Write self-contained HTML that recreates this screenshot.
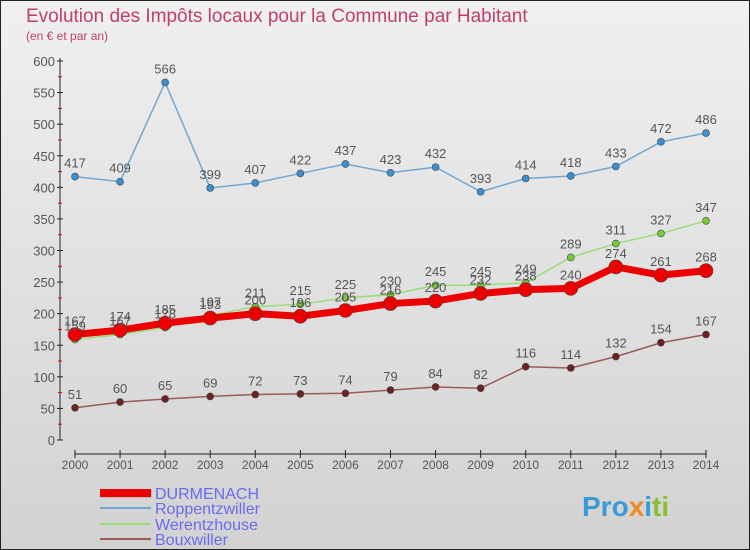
<!DOCTYPE html>
<html><head><meta charset="utf-8"><style>
body{margin:0;width:750px;height:550px;overflow:hidden;font-family:"Liberation Sans",sans-serif}
#c{position:absolute;left:0;top:0}
</style></head><body>
<svg id="c" width="750" height="550" xmlns="http://www.w3.org/2000/svg">
<defs><linearGradient id="bg" x1="0" y1="0" x2="0" y2="1"><stop offset="0" stop-color="#f0f0f0"/><stop offset="1" stop-color="#d2d2d2"/></linearGradient></defs>
<rect x="0.5" y="0.5" width="749" height="549" fill="url(#bg)" stroke="#222"/>
<text x="26" y="22" font-size="19" fill="#c0406a">Evolution des Impôts locaux pour la Commune par Habitant</text>
<text x="26" y="40" font-size="12" fill="#c0406a">(en € et par an)</text>
<g id="grid"></g><g id="axes"></g><g id="series"></g><g id="labels"></g>
<g>
<line x1="101" y1="494" x2="152" y2="494" stroke="#bbb" stroke-width="8"/>
<line x1="100" y1="493" x2="151" y2="493" stroke="#e00" stroke-width="8"/>
<text x="155" y="499" font-size="16" fill="#6a6aee">DURMENACH</text>
<line x1="100" y1="508" x2="151" y2="508" stroke="#6fa8d0" stroke-width="2"/>
<text x="155" y="514" font-size="16" fill="#6a6aee">Roppentzwiller</text>
<line x1="100" y1="524" x2="151" y2="524" stroke="#99dd77" stroke-width="2"/>
<text x="155" y="530" font-size="16" fill="#6a6aee">Werentzhouse</text>
<line x1="100" y1="539" x2="151" y2="539" stroke="#9a5a5a" stroke-width="2"/>
<text x="155" y="545" font-size="16" fill="#6a6aee">Bouxwiller</text>
</g>
<text x="582" y="516" font-size="28" font-weight="bold" fill="#3a9ad8">Pro<tspan fill="#f08a20">x</tspan><tspan fill="#3a9ad8">i</tspan><tspan fill="#88c030">ti</tspan></text>
</svg>
<script>
const years=["2000","2001","2002","2003","2004","2005","2006","2007","2008","2009","2010","2011","2012","2013","2014"];
const yTicks=[0,50,100,150,200,250,300,350,400,450,500,550,600];
const roppentzwiller=[417,409,566,399,407,422,437,423,432,393,414,418,433,472,486];
const werentzhouse=[159,167,178,197,211,215,225,230,245,245,249,289,311,327,347];
const bouxwiller=[51,60,65,69,72,73,74,79,84,82,116,114,132,154,167];
const durmenach=[167,174,185,193,200,196,205,216,220,232,238,240,274,261,268];
const NS="http://www.w3.org/2000/svg";
const X=i=>75+i*(706-75)/(years.length-1);
const Y=v=>440-v*(440-61)/600;
function mk(tag,attrs,parent){const e=document.createElementNS(NS,tag);for(const k in attrs)e.setAttribute(k,attrs[k]);document.getElementById(parent).appendChild(e);return e;}
let e;
e=mk("line",{x1:60,y1:440,x2:60,y2:58,stroke:"#222"},"axes");


e=mk("line",{x1:75,y1:454,x2:706,y2:454,stroke:"#222"},"axes");


yTicks.forEach(t=>{
 e=mk("line",{x1:57,y1:Y(t),x2:63,y2:Y(t),stroke:"#222"},"axes");
 
 
 if(t<600){e=mk("line",{x1:58,y1:Y(t+25),x2:62,y2:Y(t+25),stroke:"#e00"},"axes");
 
 }
 e=mk("text",{x:55,y:Y(t)+5,"font-size":13,fill:"#555","text-anchor":"end"},"axes");
 e.textContent=t;
 
 
});
years.forEach((y,i)=>{
 e=mk("line",{x1:X(i),y1:450,x2:X(i),y2:458,stroke:"#222"},"axes");
 
 
 e=mk("text",{x:X(i),y:469,"font-size":12,fill:"#555","text-anchor":"middle"},"axes");
 e.textContent=y;
 
 
});
function series(data,name,color,w,r,dot){
 e=mk("polyline",{points:data.map((v,i)=>X(i)+","+Y(v)).join(" "),fill:"none",stroke:color,"stroke-width":w,"stroke-linejoin":"round"},"series");
 
 
 data.forEach((v,i)=>{
  e=mk("circle",{cx:X(i),cy:Y(v),r:r,fill:dot,stroke:"#444","stroke-width":0.6},"series");
  
  
  e=mk("text",{x:X(i),y:Y(v)-9,"font-size":13,fill:"#555","text-anchor":"middle"},"labels");
  e.textContent=v;
  
  
 });
}
series(roppentzwiller,"roppentzwiller","#6fa8d0",1.5,3.5,"#3b8fd0");
series(bouxwiller,"bouxwiller","#9a5a5a",1.5,3.5,"#6a2222");
series(werentzhouse,"werentzhouse","#99dd77",1.5,3.5,"#77cc33");
series(durmenach,"durmenach","#ee0000",7,7,"#ee0000");
</script>
</body></html>
